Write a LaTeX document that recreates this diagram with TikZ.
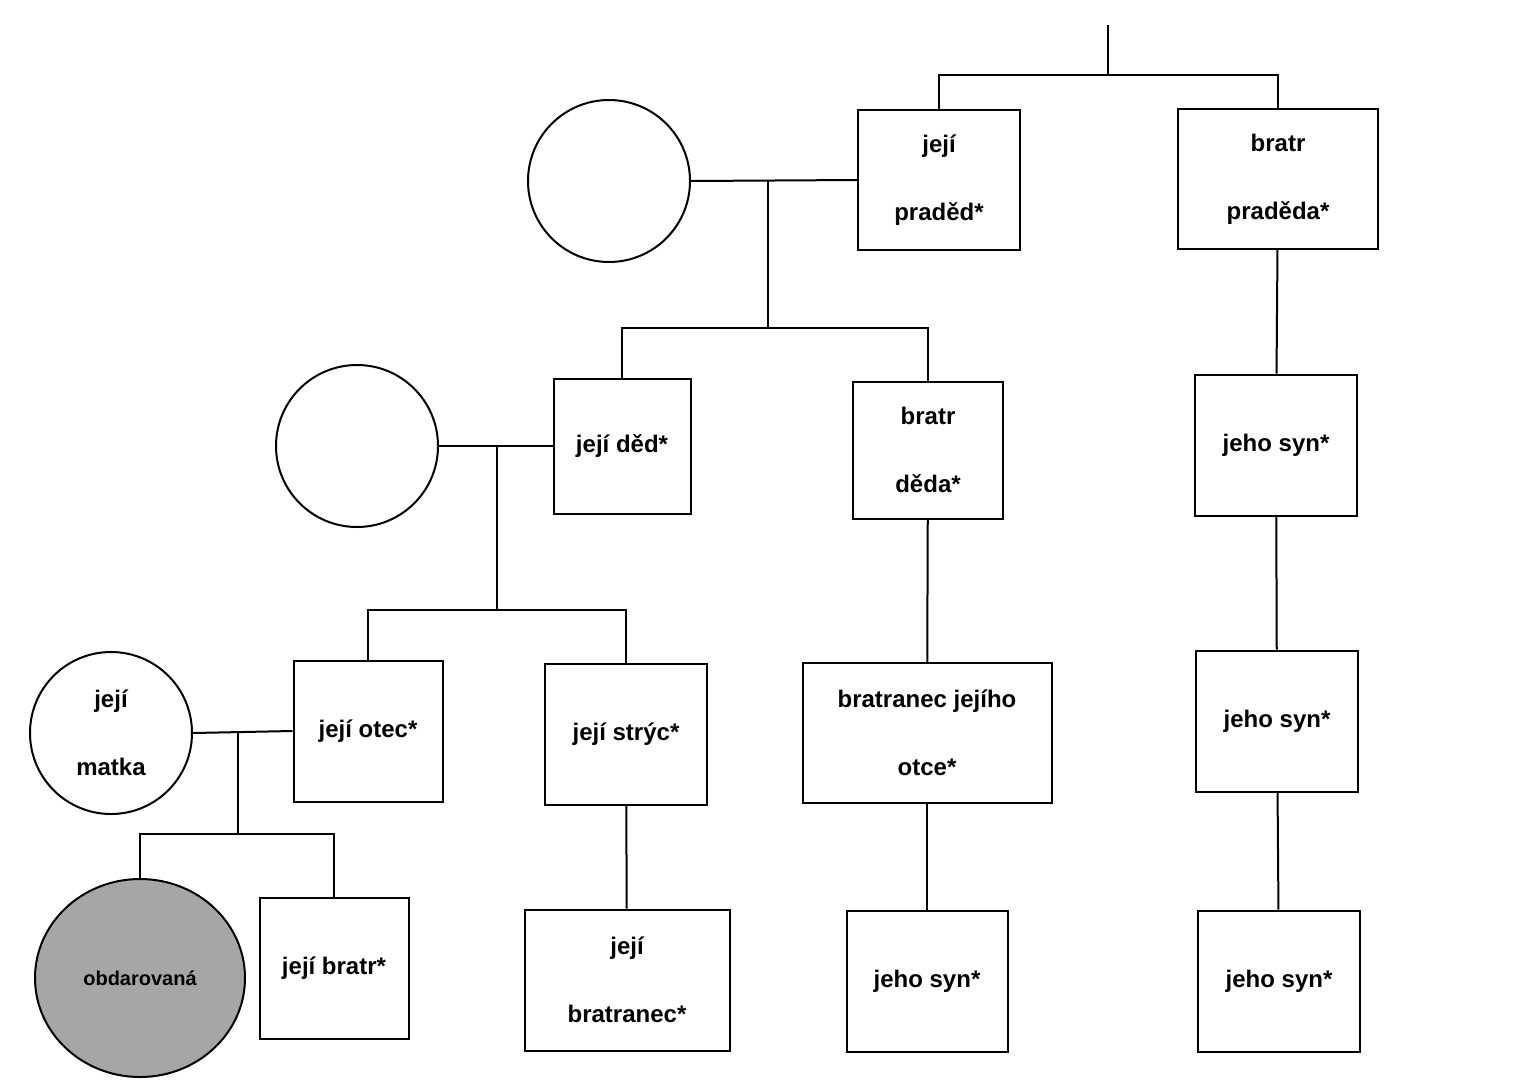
\documentclass[tikz,border=0pt]{standalone}
\usepackage{fontspec}
\setmainfont{Liberation Sans}
\usetikzlibrary{positioning,calc,shapes.geometric}
\tikzset{
  person/.style={draw,line width=2pt,fill=white,align=center,
    font=\bfseries\fontsize{24}{68}\selectfont,inner sep=0pt},
  wife/.style={person,circle,minimum size=162pt},
  link/.style={line width=2pt}
}
\begin{document}
\begin{tikzpicture}[x=1pt,y=-1pt]
  \useasboundingbox (0,0) rectangle (1536,1090);

  % generation of great-grandfather
  \node[person,minimum width=162pt,minimum height=140pt] (praded) at (939,180) {její\\praděd*};
  \node[person,minimum width=200pt,minimum height=140pt] (bpraded) at (1278,179) {bratr\\praděda*};
  \node[wife] (w1) at (609,181) {};

  % grandfather
  \node[person,minimum width=137pt,minimum height=135pt] (ded) at (622,446) {její děd*};
  \node[person,minimum width=150pt,minimum height=137pt] (bded) at (928,450) {bratr\\děda*};
  \node[wife] (w2) at (357,446) {};
  \node[person,minimum width=162pt,minimum height=141pt] (syn1) at (1276,445) {jeho syn*};

  % father
  \node[person,minimum width=149pt,minimum height=141pt] (otec) at (368,731) {její otec*};
  \node[person,minimum width=162pt,minimum height=141pt] (stryc) at (626,734) {její strýc*};
  \node[person,minimum width=249pt,minimum height=140pt] (botce) at (927,733) {bratranec jejího\\otce*};
  \node[person,circle,minimum size=162pt] (matka) at (111,733) {její\\matka};
  \node[person,minimum width=162pt,minimum height=141pt] (syn2) at (1277,721) {jeho syn*};

  % her generation
  \node[person,ellipse,fill={rgb,255:red,166;green,166;blue,166},minimum width=210pt,
        minimum height=198pt,font=\bfseries\fontsize{20}{24}\selectfont] (obd) at (140,978) {obdarovaná};
  \node[person,minimum width=149pt,minimum height=141pt] (bratr) at (334,968) {její bratr*};
  \node[person,minimum width=205pt,minimum height=141pt] (bratranec) at (627,980) {její\\bratranec*};
  \node[person,minimum width=161pt,minimum height=141pt] (syn3) at (927,981) {jeho syn*};
  \node[person,minimum width=162pt,minimum height=141pt] (syn4) at (1279,981) {jeho syn*};

  % connectors
  \coordinate (top) at (1108,25);
  \coordinate (t1) at (1108,75);
  \draw[link] (top) -- (t1);
  \draw[link] (praded.north) |- (t1) -| (bpraded.north);

  \coordinate (m1) at (768,180);
  \coordinate (k1) at (768,328);
  \draw[link] (w1.east) -- (praded.west);
  \draw[link] (m1) -- (k1);
  \draw[link] (ded.north) |- (k1) -| (bded.north);

  \coordinate (m2) at (497,446);
  \coordinate (k2) at (497,610);
  \draw[link] (w2.east) -- (ded.west);
  \draw[link] (m2) -- (k2);
  \draw[link] (otec.north) |- (k2) -| (stryc.north);

  \coordinate (m3) at (238,733);
  \coordinate (k3) at (238,834);
  \draw[link] (matka.east) -- (otec.west);
  \draw[link] (m3) -- (k3);
  \draw[link] (obd.north) |- (k3) -| (bratr.north);

  \draw[link] (bpraded) -- (syn1);
  \draw[link] (syn1) -- (syn2);
  \draw[link] (syn2) -- (syn4);
  \draw[link] (bded) -- (botce);
  \draw[link] (botce) -- (syn3);
  \draw[link] (stryc) -- (bratranec);
\end{tikzpicture}
\end{document}
